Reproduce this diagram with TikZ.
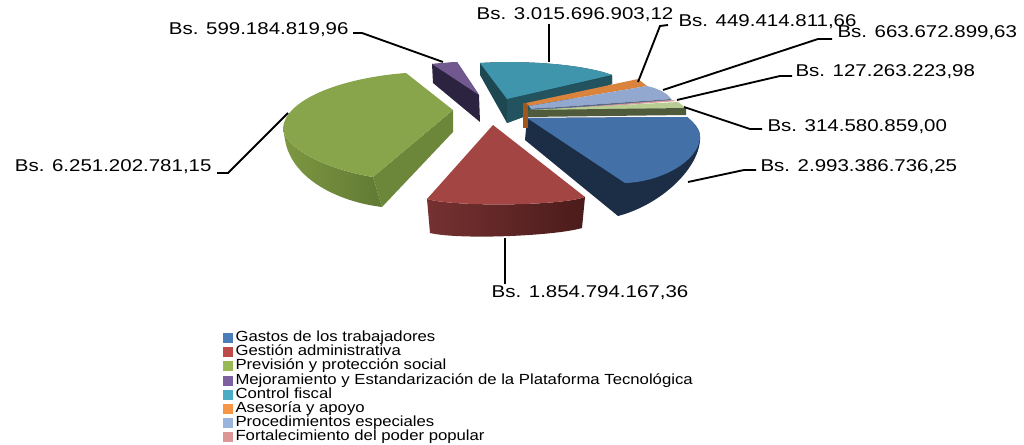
\documentclass[tikz,border=0pt]{standalone}
\usepackage{fontspec}
\newfontfamily\chartfont[FakeStretch=1.2]{Liberation Sans}
\newfontfamily\keyfont[FakeStretch=1.14]{Liberation Sans}

\definecolor{gasTop}{RGB}{68,112,168}
\definecolor{gasSide}{RGB}{28,45,70}
\definecolor{gasKey}{RGB}{74,126,187}
\definecolor{gesTop}{RGB}{163,69,66}
\definecolor{gesSideL}{RGB}{118,49,49}
\definecolor{gesSideR}{RGB}{75,27,27}
\definecolor{gesKey}{RGB}{190,75,72}
\definecolor{prvTop}{RGB}{137,165,76}
\definecolor{prvSideL}{RGB}{125,151,66}
\definecolor{prvSideR}{RGB}{97,122,52}
\definecolor{prvRad}{RGB}{108,134,58}
\definecolor{prvKey}{RGB}{152,185,84}
\definecolor{mejTop}{RGB}{113,88,143}
\definecolor{mejSide}{RGB}{44,35,64}
\definecolor{mejKey}{RGB}{125,96,160}
\definecolor{ctlTop}{RGB}{63,150,172}
\definecolor{ctlSide}{RGB}{29,72,82}
\definecolor{ctlFront}{RGB}{34,83,95}
\definecolor{ctlKey}{RGB}{75,172,198}
\definecolor{asbTop}{RGB}{218,131,60}
\definecolor{asbSide}{RGB}{160,86,28}
\definecolor{asbKey}{RGB}{247,150,70}
\definecolor{proTop}{RGB}{147,168,207}
\definecolor{proSide}{RGB}{91,107,140}
\definecolor{proKey}{RGB}{155,180,220}
\definecolor{forTop}{RGB}{212,154,152}
\definecolor{forKey}{RGB}{220,150,150}
\definecolor{ftzTop}{RGB}{184,204,148}
\definecolor{ftzSide}{RGB}{79,91,59}

\tikzset{every picture/.style={line width=0.75pt}}
\tikzset{
  leader/.style={draw={rgb, 255:red, 0; green, 0; blue, 0 }, line width=1.4pt},
  vallabel/.style={inner sep=0.75pt, font=\chartfont\fontsize{12.8}{14}\selectfont},
  legtext/.style={anchor=west, inner sep=0pt, text height=7.4pt, text depth=2pt, font=\keyfont\fontsize{11}{12}\selectfont},
  legbox/.style={draw=none, minimum size=7.5pt, inner sep=0pt},
}

\begin{document}
\begin{tikzpicture}[x=0.75pt,y=0.75pt,yscale=-1,xscale=1]
\useasboundingbox (0,0) rectangle (1024,445);

%Shape: Slice Mejoramiento [id:purple]
\draw  [draw opacity=0][fill=mejSide] (432,64) -- (457,62) -- (479,95) -- (480,122) -- (433,83) -- cycle ;
\draw  [draw opacity=0][fill=mejTop] (432,64) -- (457,62) -- (479,95) -- cycle ;
%Shape: Slice Control fiscal [id:teal]
\draw  [draw opacity=0][fill=ctlSide] (480,63) .. controls (530,60) and (585,65) .. (612,75) -- (612,84) -- (507,123) -- (480,75) -- cycle ;
\draw  [draw opacity=0][fill=ctlFront] (507,99) -- (612,76) -- (612,84) -- (507,123) -- cycle ;
\draw  [draw opacity=0][fill=ctlTop] (480,63) .. controls (530,60) and (585,65) .. (612,75) -- (507,99) -- cycle ;
%Shape: Slice Gastos [id:blue]
\draw  [draw opacity=0][fill=gasSide] (527,118) -- (687,117) .. controls (697,125) and (701,132) .. (700,140) .. controls (698,170) and (660,205) .. (618,216) -- (525,140) -- cycle ;
\draw  [draw opacity=0][fill=gasTop] (527,118) -- (687,117) .. controls (697,125) and (701,132) .. (700,138) .. controls (698,162) and (660,182) .. (625,183) -- cycle ;
%Shape: small slices [id:thin]
\draw  [draw opacity=0][fill=asbSide] (523,103) -- (528,103) -- (528,128) -- (523,128) -- cycle ;
\draw  [draw opacity=0][fill=asbTop] (526,103) -- (638,79) -- (647,86) -- (529,106) -- cycle ;
\draw  [draw opacity=0][fill=proTop] (529,106) -- (647,86) .. controls (660,89) and (668,94) .. (671,99) -- (531,109) -- cycle ;
\draw  [draw opacity=0][fill=proSide] (531,109) -- (671,99) -- (672,101) -- (531,111) -- cycle ;
\draw  [draw opacity=0][fill=forTop] (531,111) -- (672,100) -- (677,101) -- (531,112) -- cycle ;
\draw  [draw opacity=0][fill=ftzTop] (530,110) -- (678,102) -- (686,108) -- (528,111) -- cycle ;
\draw  [draw opacity=0][fill=ftzSide] (528,110) -- (686,108) -- (686,115) -- (528,117) -- cycle ;
%Shape: Slice Prevision [id:green]
\draw  [draw opacity=0][left color=prvSideL, right color=prvSideR] (283,128) .. controls (285,150) and (330,170) .. (373,177) -- (382,207) .. controls (340,202) and (292,180) .. (285,140) -- cycle ;
\draw  [draw opacity=0][fill=prvRad] (453,110) -- (453,132) -- (382,207) -- (373,177) -- cycle ;
\draw  [draw opacity=0][fill=prvTop] (406,73) -- (453,110) -- (373,177) .. controls (330,170) and (285,150) .. (283,128) .. controls (285,100) and (340,78) .. (406,73) -- cycle ;
%Shape: Slice Gestion [id:red]
\draw  [draw opacity=0][left color=gesSideL, right color=gesSideR] (427,199) .. controls (455,207) and (560,206) .. (585,197) -- (582,228) .. controls (555,236) and (460,240) .. (430,233) -- cycle ;
\draw  [draw opacity=0][fill=gesTop] (493,125) -- (585,197) .. controls (560,206) and (455,207) .. (427,199) -- cycle ;

% Leader points
\coordinate (p599) at (443,62);
\coordinate (p6251) at (288,113);
\coordinate (p3015) at (549,62);
\coordinate (p449) at (638,82);
\coordinate (p663) at (663,90);
\coordinate (p127) at (677,100);
\coordinate (p314) at (684,107);
\coordinate (p2993) at (688,182);
\coordinate (p1854) at (505,238);

% Text Node
\draw (350,30) node (l599) [vallabel, anchor=east] {Bs. 599.184.819,96};
% Text Node
\draw (213,167) node (l6251) [vallabel, anchor=east] {Bs. 6.251.202.781,15};
% Text Node
\draw (575,15) node (l3015) [vallabel] {Bs. 3.015.696.903,12};
% Text Node
\draw (677,22) node (l449) [vallabel, anchor=west] {Bs. 449.414.811,66};
% Text Node
\draw (836,33) node (l663) [vallabel, anchor=west] {Bs. 663.672.899,63};
% Text Node
\draw (794,72) node (l127) [vallabel, anchor=west] {Bs. 127.263.223,98};
% Text Node
\draw (766,127) node (l314) [vallabel, anchor=west] {Bs. 314.580.859,00};
% Text Node
\draw (759,167) node (l2993) [vallabel, anchor=west] {Bs. 2.993.386.736,25};
% Text Node
\draw (590,293) node (l1854) [vallabel] {Bs. 1.854.794.167,36};

%Straight Lines [id:leaders]
\draw [leader] (l599.east) ++(3,3) -- ++(9,0) -- (p599) ;
\draw [leader] (l6251.east) ++(4,6) -- ++(11,0) -- (p6251) ;
\draw [leader] (l3015.south -| p3015) -- (p3015) ;
\draw [leader] (l449.west) ++(-9,3) -- ++(-8,1) -- (p449) ;
\draw [leader] (l663.west) ++(-4,6) -- ++(-14,0) -- (p663) ;
\draw [leader] (l127.west) ++(-2,4) -- ++(-12,0) -- (p127) ;
\draw [leader] (l314.west) ++(-4,2) -- ++(-12,0) -- (p314) ;
\draw [leader] (l2993.west) ++(-3,3) -- ++(-12,0) -- (p2993) ;
\draw [leader] (l1854.north -| p1854) -- (p1854) ;

% Legend
\draw (228,338) node (kGas) [legbox, fill=gasKey] {};
\draw (235,338) node (tGas) [legtext] {Gastos de los trabajadores};
\draw (228,352) node (kGes) [legbox, fill=gesKey] {};
\draw (235,352) node (tGes) [legtext] {Gestión administrativa};
\draw (228,366) node (kPrv) [legbox, fill=prvKey] {};
\draw (235,366) node (tPrv) [legtext] {Previsión y protección social};
\draw (228,381) node (kMej) [legbox, fill=mejKey] {};
\draw (235,381) node (tMej) [legtext] {Mejoramiento y Estandarización de la Plataforma Tecnológica};
\draw (228,395) node (kCtl) [legbox, fill=ctlKey] {};
\draw (235,395) node (tCtl) [legtext] {Control fiscal};
\draw (228,409) node (kAsb) [legbox, fill=asbKey] {};
\draw (235,409) node (tAsb) [legtext] {Asesoría y apoyo};
\draw (228,423) node (kPro) [legbox, fill=proKey] {};
\draw (235,423) node (tPro) [legtext] {Procedimientos especiales};
\draw (228,437) node (kFor) [legbox, fill=forKey] {};
\draw (235,437) node (tFor) [legtext] {Fortalecimiento del poder popular};

\end{tikzpicture}
\end{document}
